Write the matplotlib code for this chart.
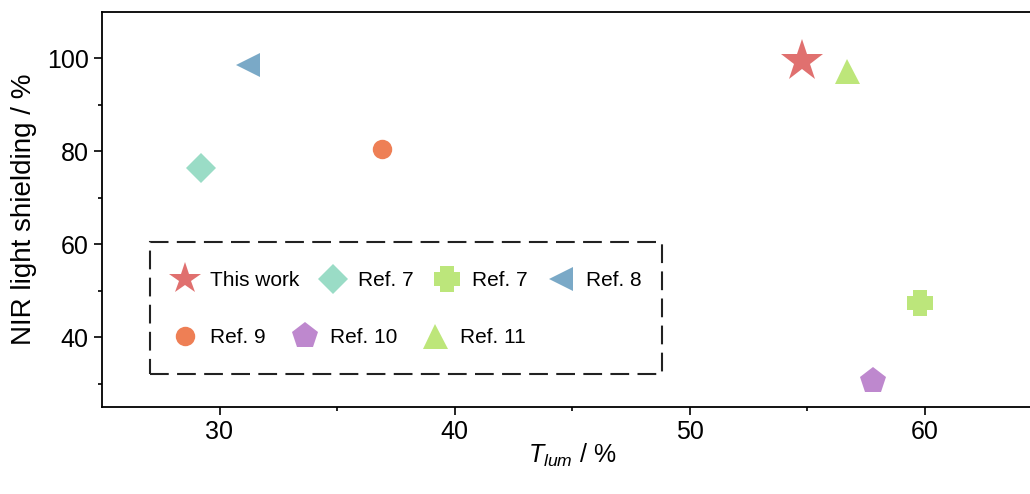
import matplotlib
matplotlib.use('Agg')
from matplotlib import pyplot as plt
from matplotlib.patches import Rectangle

labels = ['This work', 'Ref. 7', 'Ref. 7', 'Ref. 8', 'Ref. 9', 'Ref. 10', 'Ref. 11']
t_lum = [54.8, 29.2, 59.8, 31.2, 36.9, 57.8, 56.7]
nir_shield = [99.5, 76.5, 47.3, 98.6, 80.6, 30.5, 97.3]

x_ticks = [30, 40, 50, 60]
y_ticks = [40, 60, 80, 100]

# style per point
colors = ['#E0706F', '#9ADCC6', '#BCE67B', '#7AA9C7', '#EE7F55', '#BE88CE', '#BDE67A']
w = 0.26
plus_thick = [(-w, 0.5), (w, 0.5), (w, w), (0.5, w), (0.5, -w), (w, -w),
              (w, -0.5), (-w, -0.5), (-w, -w), (-0.5, -w), (-0.5, w), (-w, w)]
markers = ['*', 'D', plus_thick, '<', 'o', 'p', '^']
sizes = [32, 15.5, 19, 17, 14, 19.5, 18]

plt.rcParams['font.family'] = ['Liberation Sans', 'DejaVu Sans']
plt.rcParams['mathtext.fontset'] = 'custom'
plt.rcParams['mathtext.rm'] = 'Liberation Sans'
plt.rcParams['mathtext.it'] = 'Liberation Sans:italic'

fig = plt.figure(figsize=(10.30, 4.94), dpi=100)
ax = fig.add_axes([102 / 1030, 87 / 494, 940 / 1030, 395 / 494])

handles = []
for i in range(len(labels)):
    h, = ax.plot(t_lum[i], nir_shield[i], linestyle='none', marker=markers[i],
                 markersize=sizes[i], color=colors[i], markeredgewidth=0, label=labels[i])
    handles.append(h)

ax.set_xlim(25, 65)
ax.set_ylim(25, 110)
ax.set_xticks(x_ticks)
ax.set_yticks(y_ticks)
ax.set_xticks([35, 45, 55], minor=True)
ax.set_yticks([30, 50, 70, 90], minor=True)
ax.tick_params(which='major', direction='out', length=6, width=1.2, labelsize=18)
ax.tick_params(which='minor', direction='out', length=3, width=1.2)
ax.tick_params(axis='x', pad=3)
for s in ax.spines.values():
    s.set_linewidth(1.3)
    s.set_color('black')

ax.set_xlabel(r'$T_{lum}$ / %', fontsize=18, labelpad=-1)
ax.set_ylabel('NIR light shielding / %', fontsize=20, labelpad=7)

common = dict(frameon=False, fontsize=15, handlelength=1.4, handletextpad=0.5,
              borderpad=0, borderaxespad=0, loc='center left')
leg1 = ax.legend(handles=handles[:4], ncol=4, columnspacing=0.9,
                 bbox_to_anchor=(0.0732, 0.32), **common)
ax.add_artist(leg1)
leg2 = ax.legend(handles=handles[4:], ncol=3, columnspacing=1.15,
                 bbox_to_anchor=(0.0732, 0.175), **common)
leg1.legend_handles[0].set_markersize(24)

ax.add_patch(Rectangle((0.0511, 0.0848), 0.5446, 0.3332, transform=ax.transAxes,
                       fill=False, edgecolor='#222222', linewidth=1.5,
                       linestyle=(0, (9, 4)), clip_on=False))

fig.savefig('out.png', dpi=100)
